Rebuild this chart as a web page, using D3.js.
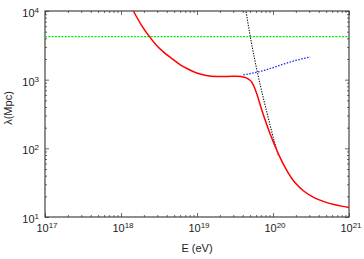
<!DOCTYPE html>
<html><head><meta charset="utf-8">
<script src="https://cdn.jsdelivr.net/npm/d3@7"></script>
<style>body{margin:0;background:#fff}svg{display:block}text{font-family:"Liberation Sans",Arial,sans-serif;fill:#222}</style>
</head><body><div id="c"></div>
<script>
// Data (log10 values)
const xTickExps = [17, 18, 19, 20, 21];
const yTickExps = [1, 2, 3, 4];
// red: total attenuation length
const redE = [18.10, 18.162, 18.26, 18.372, 18.46, 18.557, 18.66, 18.776, 18.88, 18.996, 19.12, 19.259, 19.40, 19.522, 19.58, 19.64, 19.68, 19.72, 19.75, 19.785, 19.838, 19.9, 19.96, 20.0, 20.05, 20.1, 20.15, 20.2, 20.25, 20.3, 20.4, 20.5, 20.6, 20.7, 20.8, 20.9, 21.0];
const redL = [4.12, 4.00, 3.81, 3.63, 3.51, 3.405, 3.315, 3.22, 3.155, 3.097, 3.062, 3.046, 3.046, 3.05, 3.045, 3.03, 3.005, 2.965, 2.90, 2.80, 2.61, 2.40, 2.215, 2.105, 1.9725, 1.85, 1.74, 1.6425, 1.5575, 1.4875, 1.3825, 1.3075, 1.2525, 1.2125, 1.1825, 1.1585, 1.1385];
// black dotted
const blackE = [19.63, 19.697, 19.763, 19.829, 19.895, 19.961, 20.026, 20.07];
const blackL = [4.1, 3.651, 3.272, 2.937, 2.632, 2.341, 2.064, 1.90];
// blue dotted
const blueE = [19.61, 19.9, 20.09, 20.3, 20.49];
const blueL = [3.07, 3.14, 3.21, 3.28, 3.33];
// green dashed constant
const greenE = [17, 21];
const greenL = [3.626, 3.626];

const W = 364, H = 259;
const m = {l: 45, r: 15, t: 11, b: 42};
const svg = d3.select("#c").append("svg").attr("width", W).attr("height", H);
const x = d3.scaleLog().domain([1e17, 1e21]).range([m.l, W - m.r]);
const y = d3.scaleLog().domain([10, 1e4]).range([H - m.b, m.t]);
const x0 = m.l, x1 = W - m.r, y0 = H - m.b, y1 = m.t;

const defs = svg.append("defs");
defs.append("clipPath").attr("id", "clip").append("rect")
  .attr("x", x0).attr("y", y1).attr("width", x1 - x0).attr("height", y0 - y1);

const major = 4, minor = 2;
const xMaj = xTickExps.map(e => Math.pow(10, e));
const yMaj = yTickExps.map(e => Math.pow(10, e));
const xMin = [], yMin = [];
for (let e = 17; e < 21; e++) for (let k = 2; k <= 9; k++) xMin.push(k * Math.pow(10, e));
for (let e = 1; e < 4; e++) for (let k = 2; k <= 9; k++) yMin.push(k * Math.pow(10, e));

const tickColor = "#444";
function axisTicks(axisFn, scale, vals, size, tr) {
  const g = svg.append("g").attr("transform", tr)
    .call(axisFn(scale).tickValues(vals).tickSize(size).tickFormat(""));
  g.select(".domain").remove();
  g.selectAll("line").attr("stroke", tickColor).attr("stroke-width", 0.8);
}
axisTicks(d3.axisTop, x, xMaj, major, `translate(0,${y0})`);
axisTicks(d3.axisTop, x, xMin, minor, `translate(0,${y0})`);
axisTicks(d3.axisBottom, x, xMaj, major, `translate(0,${y1})`);
axisTicks(d3.axisBottom, x, xMin, minor, `translate(0,${y1})`);
axisTicks(d3.axisRight, y, yMaj, major, `translate(${x0},0)`);
axisTicks(d3.axisRight, y, yMin, minor, `translate(${x0},0)`);
axisTicks(d3.axisLeft, y, yMaj, major, `translate(${x1},0)`);
axisTicks(d3.axisLeft, y, yMin, minor, `translate(${x1},0)`);

svg.append("rect").attr("x", x0).attr("y", y1).attr("width", x1 - x0).attr("height", y0 - y1)
  .attr("fill", "none").attr("stroke", "#333").attr("stroke-width", 1.1);

xTickExps.forEach(e => {
  const t = svg.append("text").attr("x", x(Math.pow(10, e)) + 2).attr("y", y0 + 15)
    .attr("text-anchor", "middle").attr("font-size", 11);
  t.append("tspan").text("10");
  t.append("tspan").attr("font-size", 8).attr("dy", -4).text(e);
});
yTickExps.forEach(e => {
  const t = svg.append("text").attr("x", x0 - 6).attr("y", y(Math.pow(10, e)) + 6)
    .attr("text-anchor", "end").attr("font-size", 11);
  t.append("tspan").text("10");
  t.append("tspan").attr("font-size", 8).attr("dy", -4).text(e);
});
svg.append("text").attr("x", (x0 + x1) / 2).attr("y", 252).attr("text-anchor", "middle")
  .attr("font-size", 11).text("E (eV)");
svg.append("text").attr("transform", `translate(12,${108}) rotate(-90)`).attr("text-anchor", "middle")
  .attr("font-size", 11).text("λ(Mpc)");

const plot = svg.append("g").attr("clip-path", "url(#clip)");
function series(E, L, color, width, dash, curve) {
  const pts = E.map((e, i) => [Math.pow(10, e), Math.pow(10, L[i])]);
  const line = d3.line().x(d => x(d[0])).y(d => y(d[1])).curve(curve || d3.curveMonotoneX);
  plot.append("path").datum(pts).attr("d", line).attr("fill", "none")
    .attr("stroke", color).attr("stroke-width", width)
    .attr("stroke-dasharray", dash || null);
}
series(greenE, greenL, "#00ee00", 1.3, "2,1.3", d3.curveLinear);
series(blueE, blueL, "#2222ff", 1.3, "1.5,1.5");
series(blackE, blackL, "#111", 1.1, "1.3,1.3");
series(redE, redL, "#ff0000", 1.5, null);
</script></body></html>
